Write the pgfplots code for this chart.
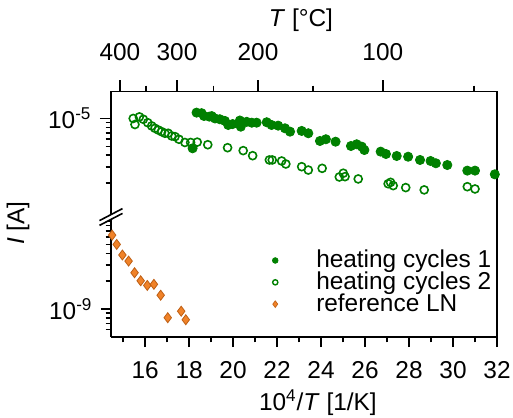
\documentclass[border=0pt]{standalone}
\usepackage{fontspec}
\setmainfont{Liberation Sans}
\usepackage{pgfplots}
\pgfplotsset{compat=1.18}
\definecolor{hgreen}{RGB}{0,128,0}
\definecolor{lnorange}{RGB}{240,130,40}
\definecolor{lnedge}{RGB}{190,95,20}
\pgfplotsset{legend image code/.code={\path[draw=none] (0pt,0pt) -- (18.5pt,0pt); \draw[#1, only marks] plot coordinates {(0pt,0pt)};}}
\begin{document}
\fontsize{12.2}{14}\selectfont
\begin{tikzpicture}
\begin{semilogyaxis}[scale only axis, width=193pt, height=63pt,
  at={(0pt,60pt)}, anchor=south west,
  xmin=14.45, xmax=32,
  tick align=outside,
  major tick length=5.5pt, minor tick length=2.7pt,
  every tick/.append style={black, line width=0.8pt},
  separate axis lines,
  every outer x axis line/.append style={draw=none},
  every outer y axis line/.append style={line width=0.8pt},
  ytick pos=left, xtick pos=right, xticklabel pos=right,
  tick label style={font=\fontsize{12.2}{14}\selectfont},
  label style={font=\fontsize{12.2}{14}\selectfont},
  xticklabel style={yshift=5.5pt},
  ymin=8.61e-7, ymax=1.98e-5,
  ytick={1e-5}, yticklabels={10\textsuperscript{-5}},
  minor ytick={2e-6,3e-6,4e-6,5e-6,6e-6,7e-6,8e-6,9e-6},
  xtick={14.855,17.452,21.134,26.810}, xticklabels={400,300,200,100},
  minor xtick={16.049,19.115,23.632,30.945},
  xlabel={\textit{T} [°C]},
  xlabel style={at={(rel axis cs:0.492,1)}, anchor=base, yshift=32.5pt},
]
\addplot[only marks, mark=o, mark size=2pt, hgreen, line width=0.8pt, mark options={fill=white}] coordinates {
(15.46,1.0e-5)(15.54,8.6e-6)(15.74,1.04e-5)(15.92,9.8e-6)(16.12,9.0e-6)(16.30,8.3e-6)
(16.45,7.83e-6)(16.60,7.5e-6)(16.75,7.2e-6)(16.90,6.92e-6)(17.05,6.92e-6)(17.21,6.47e-6)
(17.36,6.36e-6)(17.54,5.96e-6)(17.81,5.5e-6)(18.07,5.5e-6)(18.37,5.55e-6)(18.85,5.2e-6)
(19.75,4.83e-6)(20.46,4.49e-6)(20.89,3.96e-6)(21.65,3.56e-6)(21.78,3.56e-6)(22.21,3.47e-6)
(22.40,3.22e-6)(23.12,3.01e-6)(23.42,2.77e-6)(24.05,2.89e-6)(24.83,2.33e-6)(25.01,2.56e-6)
(25.09,2.35e-6)(25.69,2.22e-6)(27.05,1.97e-6)(27.16,2.04e-6)(27.28,1.88e-6)(27.85,1.79e-6)
(28.69,1.69e-6)(30.65,1.83e-6)(31.00,1.73e-6)
};
\addplot[only marks, mark=*, mark size=2.3pt, hgreen, mark options={fill=hgreen}] coordinates {
(18.16,4.76e-6)(18.34,1.156e-5)(18.57,1.14e-5)(18.68,1.064e-5)(18.92,1.046e-5)(19.03,1.06e-5)
(19.18,1.0e-5)(19.40,9.8e-6)(19.63,9.4e-6)(19.78,8.5e-6)(19.98,8.7e-6)(20.31,9.5e-6)
(20.35,8.15e-6)(20.62,9.2e-6)(20.85,9.0e-6)(21.07,9.0e-6)(21.53,9.1e-6)(21.75,8.5e-6)
(22.05,8.36e-6)(22.36,7.83e-6)(22.59,7.2e-6)(23.12,7.33e-6)(23.42,6.92e-6)(23.95,5.71e-6)
(24.22,5.96e-6)(24.66,5.61e-6)(25.36,5.04e-6)(25.62,5.26e-6)(25.85,4.96e-6)(25.97,4.56e-6)
(26.71,4.38e-6)(26.95,4.13e-6)(27.44,3.93e-6)(27.96,3.86e-6)(28.50,3.56e-6)(28.98,3.47e-6)
(29.22,3.28e-6)(29.74,3.14e-6)(30.65,2.73e-6)(31.00,2.73e-6)(31.90,2.49e-6)
};
\draw[line width=0.8pt] (rel axis cs:0,1) -- (rel axis cs:1,1);
\end{semilogyaxis}
\begin{semilogyaxis}[scale only axis, width=193pt, height=60pt,
  at={(0pt,0pt)}, anchor=south west,
  xmin=14.45, xmax=32,
  tick align=outside,
  major tick length=5pt, minor tick length=2.7pt,
  every tick/.append style={black, line width=0.8pt},
  separate axis lines,
  every outer x axis line/.append style={draw=none},
  every outer y axis line/.append style={line width=0.8pt},
  ytick pos=left, xtick pos=left, xticklabel pos=left,
  tick label style={font=\fontsize{12.2}{14}\selectfont},
  label style={font=\fontsize{12.2}{14}\selectfont},
  xticklabel style={yshift=-3pt},
  ymin=4.98e-10, ymax=9.89e-9,
  ytick={1e-9}, yticklabels={10\textsuperscript{-9}},
  minor ytick={6e-10,7e-10,8e-10,9e-10,2e-9,3e-9,4e-9,5e-9,6e-9,7e-9,8e-9,9e-9},
  xtick={16,18,20,22,24,26,28,30,32}, minor xtick={15,17,19,21,23,25,27,29,31},
  xticklabels={16,18,20,22,24,26,28,30,32},
  xlabel={10\textsuperscript{4}/\textit{T} [1/K]},
  xlabel style={at={(rel axis cs:0.536,0)}, anchor=base, yshift=-36.5pt},
  legend style={draw=none, fill=none, at={(rel axis cs:1.012,0.115)}, anchor=south east,
    font=\fontsize{12.2}{14}\selectfont, row sep=-3.75pt},
  legend cell align=left,
]
\addlegendimage{only marks, mark=*, mark size=1.4pt, hgreen, mark options={fill=hgreen}}
\addlegendentry{heating cycles 1}
\addlegendimage{only marks, mark=o, mark size=1.3pt, hgreen, line width=0.7pt, mark options={fill=white}}
\addlegendentry{heating cycles 2}
\addlegendimage{only marks, mark=diamond*, mark size=1.7pt, mark options={fill=lnorange, draw=lnedge, line width=0.3pt}}
\addlegendentry{reference LN}
\addplot[only marks, mark=diamond*, mark size=2.5pt, forget plot, mark options={fill=lnorange, draw=lnedge, line width=0.4pt}] coordinates {
(14.50,6.3e-9)(14.71,5.0e-9)(14.97,3.84e-9)(15.25,3.30e-9)(15.52,2.47e-9)(15.80,2.02e-9)
(16.10,1.80e-9)(16.40,1.85e-9)(16.71,1.41e-9)(17.03,8.05e-10)(17.64,9.47e-10)(17.85,7.66e-10)
};
\draw[line width=0.8pt] (rel axis cs:0,0) -- (rel axis cs:1,0);
\end{semilogyaxis}
\fill[white] (-5.75pt,55.8pt) -- (5.75pt,61.8pt) -- (5.75pt,64.2pt) -- (-5.75pt,58.2pt) -- cycle;
\draw[line width=0.8pt] (-5.75pt,55.8pt) -- (5.75pt,61.8pt);
\draw[line width=0.8pt] (-5.75pt,58.2pt) -- (5.75pt,64.2pt);
\node[rotate=90] at (-46.5pt,57pt) {\textit{I} [A]};
\pgfresetboundingbox
\useasboundingbox (-55.5pt,-40pt) rectangle (201pt,168.5pt);
\end{tikzpicture}
\end{document}
